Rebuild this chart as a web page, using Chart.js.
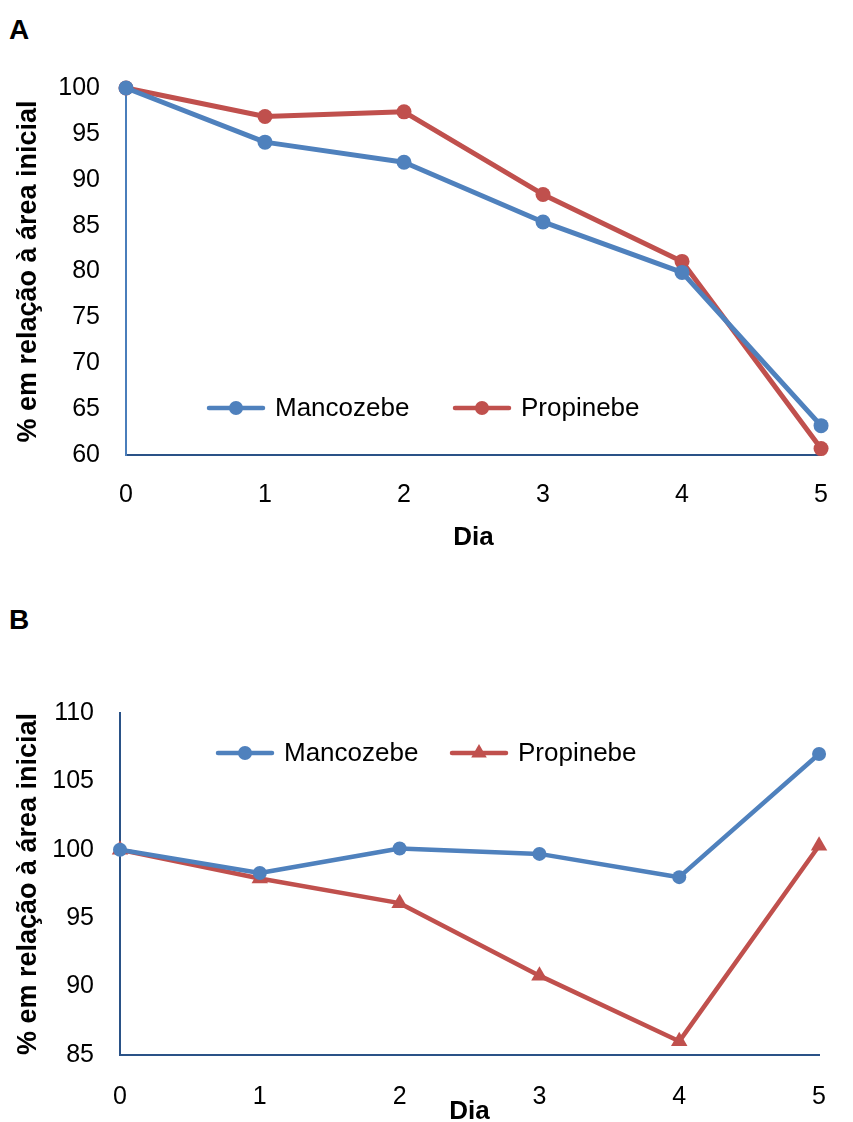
<!DOCTYPE html>
<html lang="pt">
<head>
<meta charset="utf-8">
<title>% em relação à área inicial</title>
<script src="https://cdn.jsdelivr.net/npm/chart.js@4.4.1/dist/chart.umd.min.js"></script>
<style>
body{margin:0;background:#fff;width:853px;height:1122px;position:relative;overflow:hidden;font-family:"Liberation Sans",Arial,sans-serif}
.painel{position:absolute;left:9px;font-weight:bold;font-size:28px;line-height:32px;color:#000}
#graficoA{position:absolute;left:0;top:0}
#graficoB{position:absolute;left:0;top:560px}
</style>
</head>
<body>
<div class="painel" style="top:14px">A</div>
<div class="painel" style="top:604px">B</div>
<canvas id="graficoA" width="853" height="560"></canvas>
<canvas id="graficoB" width="853" height="567"></canvas>
<script>
// dados
var dias = ['0', '1', '2', '3', '4', '5'];
var mancozebeA = [100, 94.1, 91.9, 85.4, 79.9, 63.2];
var propinebeA = [100, 96.9, 97.4, 88.4, 81.1, 60.7];
var mancozebeB = [100, 98.3, 100.1, 99.7, 98.0, 107.0];
var propinebeB = [100, 97.9, 96.1, 90.8, 86.0, 100.3];
var eixoYA = [60, 100, 5];   // min, max, passo
var eixoYB = [85, 110, 5];

var azul = '#4f81bd';
var vermelho = '#c0504d';
var azulEixo = '#2a5287';
var fonte = '"Liberation Sans", Arial, sans-serif';

Chart.defaults.font.family = fonte;
Chart.defaults.font.size = 25;
Chart.defaults.color = '#000';

// legenda desenhada dentro da área do gráfico
var legendaInterna = {
    id: 'legendaInterna',
    afterDatasetsDraw: function (chart, args, opts) {
        var ctx = chart.ctx;
        chart.data.datasets.forEach(function (ds, i) {
            var x = opts.itens[i];
            ctx.save();
            ctx.strokeStyle = ds.borderColor;
            ctx.lineWidth = opts.espessura;
            ctx.lineCap = 'round';
            ctx.beginPath();
            ctx.moveTo(x, opts.y);
            ctx.lineTo(x + opts.comprimento, opts.y);
            ctx.stroke();
            ctx.fillStyle = ds.backgroundColor;
            Chart.helpers.drawPoint(ctx, {
                pointStyle: ds.pointStyle,
                radius: opts.raio[i],
                rotation: 0,
                borderWidth: 0
            }, x + opts.comprimento / 2, opts.y);
            ctx.fillStyle = '#000';
            ctx.font = '26px ' + fonte;
            ctx.textBaseline = 'middle';
            ctx.textAlign = 'left';
            ctx.fillText(ds.label, x + opts.comprimento + 12, opts.y + 1);
            ctx.restore();
        });
    }
};

function serie(nome, valores, cor, estilo, raio, largura) {
    return {
        label: nome,
        data: valores,
        borderColor: cor,
        backgroundColor: cor,
        borderWidth: largura,
        borderJoinStyle: 'round',
        borderCapStyle: 'round',
        pointStyle: estilo,
        pointRadius: raio,
        pointBorderWidth: 0,
        pointBackgroundColor: cor,
        tension: 0,
        clip: false
    };
}

function criarGrafico(id, datasets, eixoY, conf) {
    var ctx = document.getElementById(id).getContext('2d');
    return new Chart(ctx, {
        type: 'line',
        data: { labels: dias, datasets: datasets },
        options: {
            responsive: false,
            animation: false,
            events: [],
            layout: { padding: conf.padding },
            plugins: {
                legend: { display: false },
                tooltip: { enabled: false },
                legendaInterna: conf.legenda
            },
            scales: {
                x: {
                    offset: false,
                    grid: { display: false, drawTicks: false },
                    border: { display: true, color: azulEixo, width: 2 },
                    ticks: { padding: conf.xPad, maxRotation: 0, autoSkip: false },
                    title: { display: true, text: 'Dia', font: { weight: 'bold', size: 26 }, padding: { top: 0, bottom: conf.tituloXPad } },
                    afterFit: function (s) { s.height = conf.alturaX; }
                },
                y: {
                    min: eixoY[0],
                    max: eixoY[1],
                    ticks: { stepSize: eixoY[2], padding: 26 },
                    grid: { display: false, drawTicks: false },
                    border: { display: true, color: conf.corEixoY, width: 2 },
                    title: { display: true, text: '% em relação à área inicial', font: { weight: 'bold', size: 27 }, padding: { top: 12, bottom: 0 } },
                    afterFit: function (s) { s.width = conf.larguraY; }
                }
            }
        },
        plugins: [legendaInterna]
    });
}

criarGrafico('graficoA', [
    serie('Mancozebe', mancozebeA, azul, 'circle', 7.5, 5),
    serie('Propinebe', propinebeA, vermelho, 'circle', 7.5, 5)
], eixoYA, {
    padding: { left: 0, top: 88, right: 27, bottom: 5 },
    larguraY: 126,
    alturaX: 100,
    xPad: 25,
    tituloXPad: 2,
    corEixoY: '#4a7ebb',
    legenda: { itens: [209, 455], y: 408, comprimento: 54, espessura: 4.5, raio: [7, 7] }
});

criarGrafico('graficoB', [
    serie('Mancozebe', mancozebeB, azul, 'circle', 7, 4.5),
    serie('Propinebe', propinebeB, vermelho, 'triangle', 9.5, 4.5)
], eixoYB, {
    padding: { left: 0, top: 153, right: 9, bottom: 0 },
    larguraY: 120,
    alturaX: 72,
    xPad: 27,
    tituloXPad: 0,
    corEixoY: azulEixo,
    legenda: { itens: [218, 452], y: 193, comprimento: 54, espessura: 4.5, raio: [7, 9] }
});
</script>
</body>
</html>
